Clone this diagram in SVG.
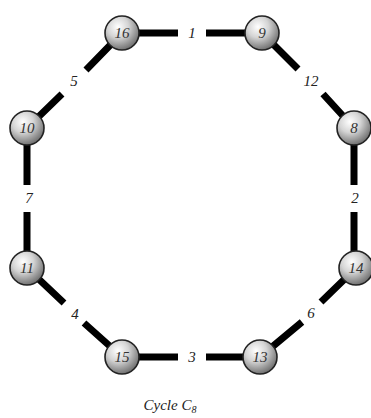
<svg xmlns="http://www.w3.org/2000/svg" width="371" height="418" viewBox="0 0 371 418">
<defs>
<radialGradient id="ball" cx="0.38" cy="0.32" r="0.7">
<stop offset="0" stop-color="#ffffff"/>
<stop offset="0.45" stop-color="#d4d4d4"/>
<stop offset="1" stop-color="#6e6e6e"/>
</radialGradient>
<style>
.e{stroke:#000;stroke-width:7;fill:none}
.n{fill:url(#ball);stroke:#222;stroke-width:1.6}
.t{font-family:"Liberation Serif",serif;font-style:italic;font-size:15px;fill:#333;text-anchor:middle}
.l{font-family:"Liberation Serif",serif;font-style:italic;font-size:15px;fill:#222;text-anchor:middle}
</style>
</defs>
<rect width="371" height="418" fill="#fff"/>
<g id="edges">
<path class="e" d="M122 33H178M206 33H262"/>
<path class="e" d="M262 33L298 69M323 94L354 128"/>
<path class="e" d="M354 128V185M354 212V268"/>
<path class="e" d="M356 268L321 302M302 322L260 357"/>
<path class="e" d="M122 357H178M206 357H260"/>
<path class="e" d="M27 268L64 303M84 323L122 357"/>
<path class="e" d="M27 128V185M27 212V268"/>
<path class="e" d="M27 128L62 94M86 70L122 33"/>
</g>
<g id="edge-labels">
<text class="l" x="192" y="38">1</text>
<text class="l" x="311" y="86">12</text>
<text class="l" x="355" y="203">2</text>
<text class="l" x="311" y="318">6</text>
<text class="l" x="192" y="362">3</text>
<text class="l" x="75" y="319">4</text>
<text class="l" x="29" y="203">7</text>
<text class="l" x="74" y="86">5</text>
</g>
<g id="n16"><circle class="n" cx="122" cy="33" r="17"/><text class="t" x="122" y="38">16</text></g>
<g id="n9"><circle class="n" cx="262" cy="33" r="17"/><text class="t" x="262" y="38">9</text></g>
<g id="n8"><circle class="n" cx="354" cy="128" r="17"/><text class="t" x="354" y="133">8</text></g>
<g id="n14"><circle class="n" cx="356" cy="268" r="17"/><text class="t" x="356" y="273">14</text></g>
<g id="n13"><circle class="n" cx="260" cy="357" r="17"/><text class="t" x="260" y="362">13</text></g>
<g id="n15"><circle class="n" cx="122" cy="357" r="17"/><text class="t" x="122" y="362">15</text></g>
<g id="n11"><circle class="n" cx="27" cy="268" r="17"/><text class="t" x="27" y="273">11</text></g>
<g id="n10"><circle class="n" cx="27" cy="128" r="17"/><text class="t" x="27" y="133">10</text></g>
<text class="l" x="170" y="410" font-size="14">Cycle C<tspan font-size="10" dy="3">8</tspan></text>
</svg>
